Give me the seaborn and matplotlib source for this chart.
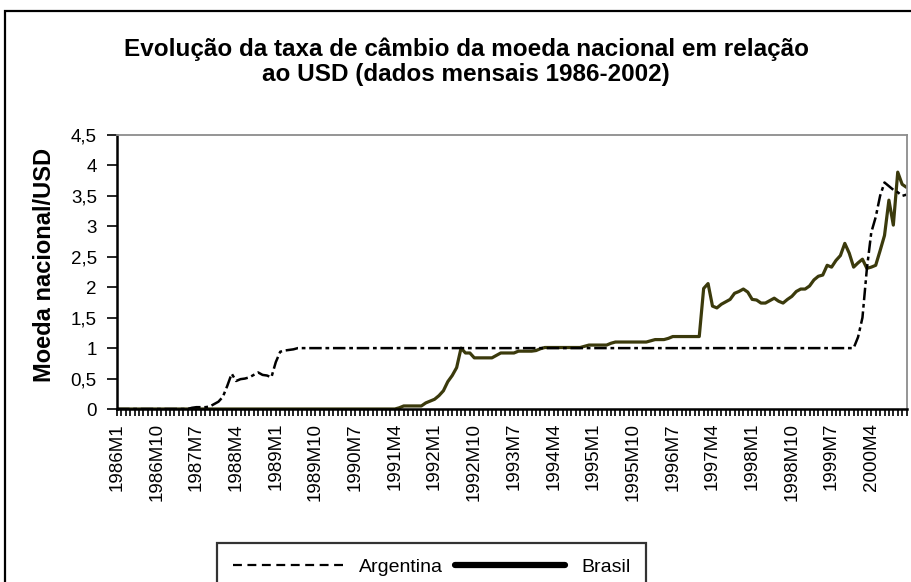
import matplotlib
matplotlib.use("Agg")
import matplotlib.pyplot as plt
from matplotlib.lines import Line2D
from matplotlib.patches import Rectangle
import seaborn as sns
import pandas as pd

# meses 1986M1 .. 2000M12 (categorias do eixo)
months = [f"{1986 + k // 12}M{k % 12 + 1}" for k in range(180)]

argentina = [
    0, 0, 0, 0, 0, 0, 0, 0, 0, 0,
    0, 0, 0, 0, 0, 0, 0, 0.02, 0.03, 0.03,
    0.03, 0.04, 0.08, 0.12, 0.2, 0.38, 0.58, 0.46, 0.49, 0.5,
    0.52, 0.56, 0.6, 0.56, 0.55, 0.52, 0.77, 0.94, 0.96, 0.97,
    0.98, 1, 1, 1, 1, 1, 1, 1, 1, 1,
    1, 1, 1, 1, 1, 1, 1, 1, 1, 1,
    1, 1, 1, 1, 1, 1, 1, 1, 1, 1,
    1, 1, 1, 1, 1, 1, 1, 1, 1, 1,
    1, 1, 1, 1, 1, 1, 1, 1, 1, 1,
    1, 1, 1, 1, 1, 1, 1, 1, 1, 1,
    1, 1, 1, 1, 1, 1, 1, 1, 1, 1,
    1, 1, 1, 1, 1, 1, 1, 1, 1, 1,
    1, 1, 1, 1, 1, 1, 1, 1, 1, 1,
    1, 1, 1, 1, 1, 1, 1, 1, 1, 1,
    1, 1, 1, 1, 1, 1, 1, 1, 1, 1,
    1, 1, 1, 1, 1, 1, 1, 1, 1, 1,
    1, 1, 1, 1, 1, 1, 1, 1, 1.18, 1.5,
    2.3, 2.9, 3.15, 3.5, 3.72, 3.66, 3.6, 3.56, 3.5, 3.52,
]

brasil = [
    0, 0, 0, 0, 0, 0, 0, 0, 0, 0,
    0, 0, 0, 0, 0, 0, 0, 0, 0, 0,
    0, 0, 0, 0, 0, 0, 0, 0, 0, 0,
    0, 0, 0, 0, 0, 0, 0, 0, 0, 0,
    0, 0, 0, 0, 0, 0, 0, 0, 0, 0,
    0, 0, 0, 0, 0, 0, 0, 0, 0, 0,
    0, 0, 0, 0, 0.02, 0.05, 0.05, 0.05, 0.05, 0.05,
    0.1, 0.13, 0.16, 0.22, 0.3, 0.45, 0.55, 0.68, 1.0, 0.92,
    0.92, 0.84, 0.84, 0.84, 0.84, 0.84, 0.88, 0.92, 0.92, 0.92,
    0.92, 0.95, 0.95, 0.95, 0.95, 0.96, 0.99, 1.01, 1.01, 1.01,
    1.01, 1.01, 1.01, 1.01, 1.01, 1.01, 1.03, 1.05, 1.05, 1.05,
    1.05, 1.05, 1.08, 1.1, 1.1, 1.1, 1.1, 1.1, 1.1, 1.1,
    1.1, 1.12, 1.14, 1.14, 1.14, 1.16, 1.19, 1.19, 1.19, 1.19,
    1.19, 1.19, 1.19, 1.98, 2.06, 1.69, 1.66, 1.72, 1.76, 1.8,
    1.9, 1.93, 1.97, 1.92, 1.8, 1.79, 1.74, 1.74, 1.78, 1.82,
    1.77, 1.74, 1.8, 1.85, 1.93, 1.97, 1.97, 2.02, 2.12, 2.18,
    2.2, 2.36, 2.33, 2.44, 2.52, 2.72, 2.56, 2.33, 2.4, 2.46,
    2.31, 2.33, 2.36, 2.6, 2.85, 3.43, 3.02, 3.89, 3.69, 3.64,
]

y_ticks = [0, 0.5, 1, 1.5, 2, 2.5, 3, 3.5, 4, 4.5]
y_tick_labels = ["0", "0,5", "1", "1,5", "2", "2,5", "3", "3,5", "4", "4,5"]

sns.set_theme(style="white")
plt.rcParams["font.family"] = ["Liberation Sans", "DejaVu Sans"]
plt.rcParams["text.color"] = "black"
plt.rcParams["xtick.color"] = "black"
plt.rcParams["ytick.color"] = "black"

df = pd.DataFrame({"pos": range(len(months)), "mes": months,
                   "Argentina": argentina, "Brasil": brasil})

fig = plt.figure(figsize=(9.12, 5.82), dpi=100)
ax = fig.add_axes([117 / 912, 1 - 409 / 582, 790 / 912, 274 / 582])

sns.lineplot(data=df, x="pos", y="Brasil", color="#3b3a0c", linewidth=2.3,
             errorbar=None, ax=ax)
sns.lineplot(data=df, x="pos", y="Argentina", color="black", linewidth=1.8,
             linestyle=(0, (5, 1.5, 1.5, 1.5)), errorbar=None, ax=ax)

ax.set_xlim(0, 179.1)
ax.set_ylim(0, 4.5)
ax.set_xlabel("")
ax.set_ylabel("")

ax.set_xticks(range(0, len(months), 9))
ax.set_xticklabels(months[::9], rotation=90, fontsize=13.5, color="black")
ax.set_xticks(range(len(months)), minor=True)
ax.tick_params(axis="x", which="both", bottom=True, length=5, width=1.2,
               direction="out", color="black", pad=5)

ax.set_yticks(y_ticks)
ax.set_yticklabels(y_tick_labels, fontsize=13.5, color="black")
ax.tick_params(axis="y", left=True, length=7.5, width=1.2, direction="out",
               color="black", pad=7)

for s in ["left", "bottom"]:
    ax.spines[s].set_color("black")
    ax.spines[s].set_linewidth(1.8)
for s in ["top", "right"]:
    ax.spines[s].set_color("#8c8c8c")
    ax.spines[s].set_linewidth(1.3)

fig.text(0.511, 1 - 61.5 / 582,
         "Evolução da taxa de câmbio da moeda nacional em relação\n"
         "ao USD (dados mensais 1986-2002)",
         ha="center", va="center", fontsize=17.5, fontweight="bold",
         linespacing=1.1, color="black")
fig.text(45 / 912, 1 - 265 / 582, "Moeda nacional/USD", rotation=90,
         ha="center", va="center", fontsize=17, fontweight="bold",
         color="black")

# moldura do gráfico (cortada à direita e em baixo)
fig.add_artist(Rectangle((5 / 912, -0.5), 2, 0.5 + 1 - 11 / 582,
                         transform=fig.transFigure, fill=False,
                         edgecolor="black", linewidth=1.6))

handles = [Line2D([], [], color="black", linewidth=1.6, linestyle=(0, (4, 2.5))),
           Line2D([], [], color="black", linewidth=4.5)]
leg = fig.legend(handles, ["Argentina", "Brasil"], loc="upper left",
                 bbox_to_anchor=(217 / 912, 1 - 543 / 582), ncol=2,
                 frameon=True, fancybox=False, edgecolor="black",
                 handlelength=5.7, handletextpad=0.8, columnspacing=0.6,
                 fontsize=14, borderpad=0.8, borderaxespad=0, labelcolor="black")
leg.get_frame().set_linewidth(1.6)

fig.savefig("out.png", dpi=100)
